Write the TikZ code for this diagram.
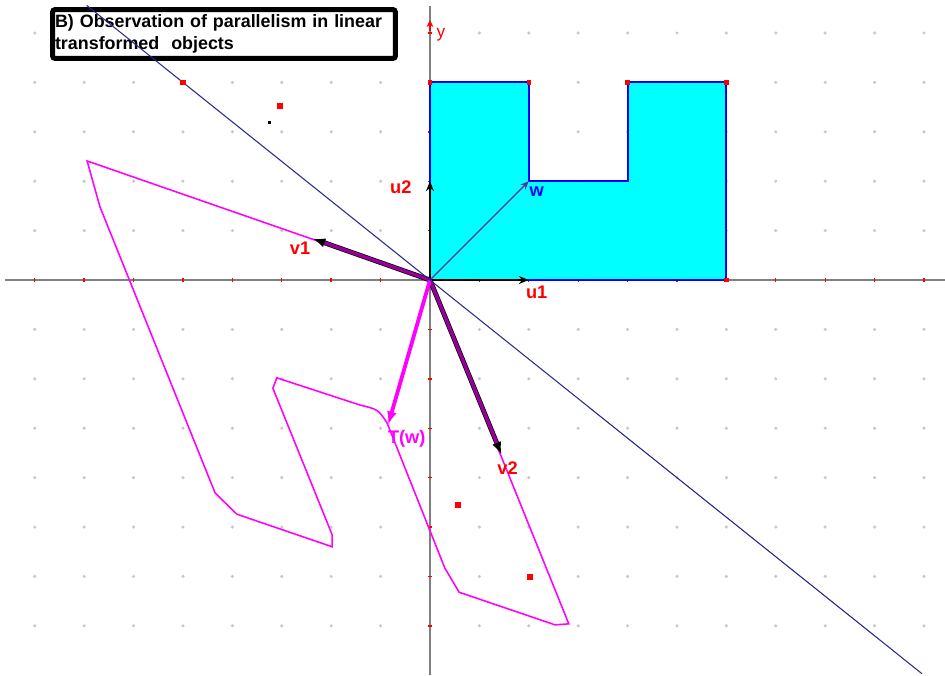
\documentclass[tikz,border=0pt]{standalone}
\usepackage{fontspec}
\setmainfont{Liberation Sans}
\usetikzlibrary{arrows.meta,calc}

\definecolor{gridgray}{RGB}{200,200,200}
\definecolor{axisgray}{RGB}{128,128,128}
\definecolor{navyline}{RGB}{40,40,140}
\definecolor{vpurple}{RGB}{150,0,150}
\definecolor{wpurple}{RGB}{90,50,160}
\definecolor{objcyan}{RGB}{0,255,255}
\definecolor{objblue}{RGB}{0,0,255}
\definecolor{imgmagenta}{RGB}{255,0,255}
\definecolor{ptred}{RGB}{255,0,0}

\begin{document}
\begin{tikzpicture}[
    tick/.style={ptred, line width=0.8pt},
    basis/.style={-{Stealth[length=2mm,width=1.6mm]}, line width=1.5pt, black},
    image/.style={-{Latex[length=2.6mm,width=1.9mm,color=black,fill=vpurple]}, line width=2pt, vpurple},
    lbl/.style={font=\bfseries\fontsize{10.5}{12}\selectfont, ptred, inner sep=0pt},
    rdot/.style={fill=ptred, inner sep=0pt, minimum size=3.5pt},
    vdot/.style={fill=ptred, inner sep=0pt, minimum size=2.5pt}
]
\useasboundingbox (-8.704,-7.996) rectangle (10.425,5.668);

% grid points
\foreach \x in {-8,...,10}
  \foreach \y in {-7,...,5} {
    \ifnum\x=0 \else \ifnum\y=0 \else
      \fill[gridgray] (\x,\y) circle (0.035);
    \fi\fi
  }

% axes
\draw[axisgray, line width=1.2pt] (-8.6,0) -- (10.425,0);
\draw[axisgray, line width=1.2pt] (0,-7.996) -- (0,5.55);
\foreach \x in {-8,...,10} \draw[tick] (\x,-0.05) -- (\x,0.05);
\foreach \y in {-7,...,5} \draw[tick] (-0.05,\y) -- (0.05,\y);
\draw[ptred, line width=0.6pt, -{Stealth[length=1.4mm,width=1.4mm]}] (0,5.05) -- (0,5.26);
\node[ptred, font=\fontsize{10}{12}\selectfont, inner sep=0pt] (ylbl) at (0.22,4.97) {y};

% original object
\coordinate (O) at (0,0);
\filldraw[fill=objcyan, draw=objblue, line width=1.1pt]
  (0,0) -- (0,4) -- (2,4) -- (2,2) -- (4,2) -- (4,4) -- (6,4) -- (6,0) -- cycle;
\foreach \p in {(0,4),(2,4),(4,4),(6,4),(6,0)}
  \node[vdot] at \p {};

% transformed object
\draw[imgmagenta, line width=0.9pt]
  (O) -- (-6.94,2.41) -- (-6.68,1.48) -- (-4.35,-4.31) -- (-3.91,-4.74)
  -- (-1.98,-5.40) -- (-1.98,-5.16) -- (-2.06,-4.96) -- (-3.18,-2.19)
  -- (-3.10,-1.98) -- (-3.04,-2.00) -- (-1.42,-2.53)
  .. controls (-1.05,-2.62) .. (-0.87,-2.89)
  -- (0.30,-5.83) -- (0.59,-6.32) -- (2.53,-6.98) -- (2.81,-6.96) -- cycle;

% vectors
\coordinate (u1) at (2,0);
\coordinate (u2) at (0,2);
\coordinate (w) at (2,2);
\coordinate (v1) at (-2.38,0.84);
\coordinate (v2) at (1.45,-3.54);
\coordinate (Tw) at (-0.85,-2.94);

\draw[wpurple, line width=0.7pt, -{Stealth[length=1.7mm,width=1.4mm]}] (O) -- (w);
\draw[basis] (O) -- (u1);
\draw[basis] (O) -- (u2);
\draw[black, line width=2.8pt, shorten >=2.4mm] (O) -- (v1);
\draw[image] (O) -- (v1);
\draw[black, line width=2.8pt, shorten >=2.4mm] (O) -- (v2);
\draw[image] (O) -- (v2);
\draw[imgmagenta, line width=2.2pt, -{Latex[length=2.8mm,width=2mm]}] (O) -- (Tw);

\node[lbl] (u1lbl) at (2.16,-0.24) {u1};
\node[lbl] (u2lbl) at (-0.59,1.88) {u2};
\node[lbl, objblue] (wlbl) at (2.16,1.78) {w};
\node[lbl] (v1lbl) at (-2.63,0.64) {v1};
\node[lbl] (v2lbl) at (1.57,-3.81) {v2};
\node[lbl, imgmagenta] (Twlbl) at (-0.47,-3.22) {T(w)};

% marked points
\node[rdot] (p1) at (-3.04,3.52) {};
\node[fill=black, inner sep=0pt, minimum size=2pt] (p2) at (-3.25,3.19) {};
\node[rdot] (p3) at (0.56,-4.56) {};
\node[rdot] (p4) at (2.02,-6.02) {};

% caption box
\node[draw, line width=2.9pt, rounded corners=1.5pt, fill=white,
      minimum width=6.94cm, minimum height=0.99cm, text width=6.84cm,
      inner xsep=0.05cm, inner ysep=0pt, align=left,
      font=\bfseries\fontsize{10.3}{12.7}\selectfont] (title) at (-4.17,4.98)
  {B) Observation of parallelism in linear\\transformed\ \ objects};

% line through the origin
\coordinate (la) at (-6.95,5.56);
\coordinate (lb) at (9.96,-7.97);
\draw[navyline, line width=0.6pt] (la) -- (lb);
\node[rdot, minimum size=3pt] (p5) at (-5,4) {};

\end{tikzpicture}
\end{document}
